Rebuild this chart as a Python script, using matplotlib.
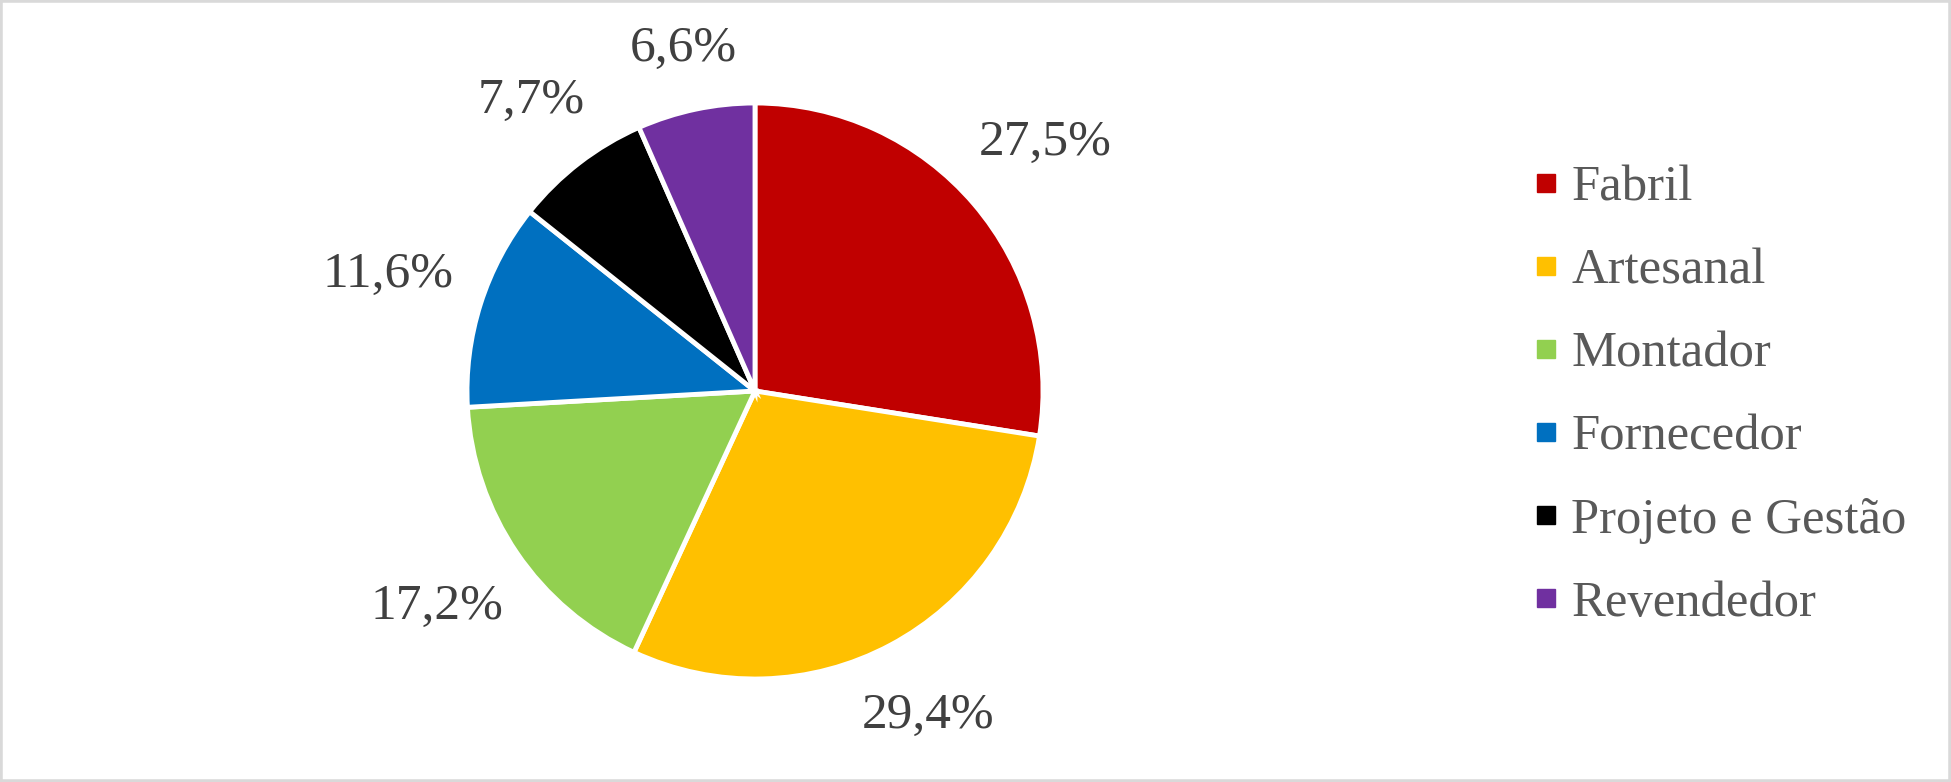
import numpy as np
import matplotlib
matplotlib.use('Agg')
import matplotlib.pyplot as plt
from matplotlib.lines import Line2D
from matplotlib.patches import Rectangle

categories = ['Fabril', 'Artesanal', 'Montador', 'Fornecedor', 'Projeto e Gestão', 'Revendedor']
shares = [27.5, 29.4, 17.2, 11.6, 7.7, 6.6]
colors = ['#C00000', '#FFC000', '#92D050', '#0070C0', '#000000', '#7030A0']

plt.rcParams['font.family'] = ['Liberation Serif', 'DejaVu Serif']

W, H = 1951, 782
fig = plt.figure(figsize=(W / 100, H / 100), dpi=100)
# pie centre ~ (755, 391) px, radius ~288 px
cx, cy, r = 755, 391, 288
ax = fig.add_axes([(cx - r) / W, (H - cy - r) / H, 2 * r / W, 2 * r / H])

wedges, texts, autotexts = ax.pie(
    shares, colors=colors, startangle=90, counterclock=False,
    autopct=lambda p: ('%.1f%%' % p).replace('.', ','), pctdistance=1.3,
    wedgeprops=dict(edgecolor='white', linewidth=3.5),
    textprops=dict(fontsize=37, color='#404040'))
ax.set_xlim(-1, 1)
ax.set_ylim(-1, 1)
ax.set_aspect('equal')
ax.axis('off')

# put each label just outside the rim, like Excel's "outside end"
fig.canvas.draw()
renderer = fig.canvas.get_renderer()
gap = 28  # px between rim and label box
for w, t in zip(wedges, autotexts):
    th = np.deg2rad((w.theta1 + w.theta2) / 2)
    bb = t.get_window_extent(renderer)
    hw, hh = bb.width / 2, bb.height / 2
    d = (r + gap + abs(hw * np.cos(th)) + abs(hh * np.sin(th))) / r
    t.set_position((d * np.cos(th), d * np.sin(th)))

handles = [Line2D([0], [0], marker='s', linestyle='', markersize=13,
                  markerfacecolor=c, markeredgecolor=c) for c in colors]
fig.legend(handles, categories, loc='center left',
           bbox_to_anchor=(1536 / W, 1 - 396 / H), frameon=False,
           fontsize=36.5, labelcolor='#595959', handlelength=0.4,
           handletextpad=0.3, labelspacing=0.72, borderpad=0, borderaxespad=0)

fig.patches.append(Rectangle((0, 0), 1, 1, transform=fig.transFigure,
                             fill=False, edgecolor='#D9D9D9', linewidth=4))

fig.savefig('out.png', dpi=100)
